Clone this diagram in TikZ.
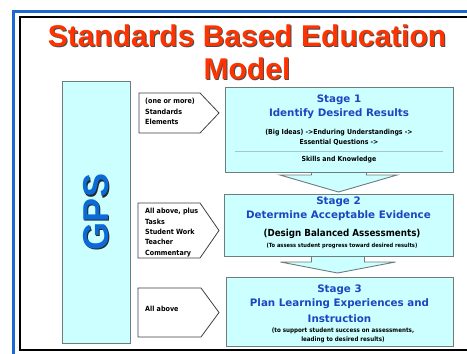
\documentclass[tikz,border=0pt]{standalone}
\usepackage{fontspec}
\setmainfont{DejaVu Sans}
\newfontfamily\arialfont{Liberation Sans}
\newfontfamily\condfont{DejaVu Sans Condensed}
\usetikzlibrary{calc}
\definecolor{framblue}{HTML}{1A6AD0}
\definecolor{cyanfill}{HTML}{CCFFFF}
\definecolor{boxgray}{HTML}{6E7C7C}
\definecolor{headblue}{HTML}{1C45C0}
\definecolor{titlered}{HTML}{FF3300}
\definecolor{gpsblue}{HTML}{0A6AD8}
\definecolor{seprule}{HTML}{A8C4CC}
\tikzset{
  stagebox/.style={draw=boxgray, fill=cyanfill, line width=0.9pt, inner sep=0pt},
  blockarrow/.style={draw=boxgray, fill=cyanfill, line width=0.9pt, line join=miter},
  tagshape/.style={draw=black!75, fill=white, line width=0.8pt},
  titletext/.style={font=\arialfont\bfseries\fontsize{30}{30}\selectfont, text=titlered, inner sep=0pt},
  titleshadow/.style={font=\arialfont\bfseries\fontsize{30}{30}\selectfont, text=black!70, inner sep=0pt},
  headtext/.style={font=\bfseries\fontsize{10.3}{12}\selectfont, text=headblue, inner sep=0pt},
  smalltext/.style={font=\condfont\bfseries\fontsize{6.9}{8}\selectfont, text=black, inner sep=0pt},
  tinytext/.style={font=\condfont\bfseries\fontsize{5.7}{7}\selectfont, text=black, inner sep=0pt},
  tagtext/.style={font=\condfont\bfseries\fontsize{7.1}{10.3}\selectfont, text=black, inner sep=0pt, anchor=west, align=left},
}
\begin{document}
\begin{tikzpicture}[x=1pt,y=-1pt]
\useasboundingbox (0,0) rectangle (467,354);
\fill[white] (0,0) rectangle (467,354);
% frame
\draw[framblue, line width=3pt] (13,360) -- (13,11) -- (470,11);
\draw[black, line width=2pt] (470,17) -- (20,17) -- (20,350) -- (470,350);
% title
\node[titleshadow] (t1s) at (248,37) {Standards Based Education};
\node[titletext] (t1) at (247,36) {Standards Based Education};
\node[titleshadow] (t2s) at (248,70) {Model};
\node[titletext] (t2) at (247,69) {Model};
% GPS column
\node[draw=boxgray, fill=cyanfill, line width=0.8pt, minimum width=68pt, minimum height=262pt] (gps) at (96,212) {};
\node[rotate=90, font=\arialfont\bfseries\fontsize{36}{36}\selectfont, text=black!85] (gpss) at (97.5,213.5) {GPS};
\node[rotate=90, font=\arialfont\bfseries\fontsize{36}{36}\selectfont, text=gpsblue] (gpst) at (96,212) {GPS};
% stage boxes (positions)
\coordinate (s1c) at (339,129.5);
\coordinate (s2c) at (338.5,225);
\coordinate (s3c) at (339.5,311.5);
% block arrows (drawn under boxes)
\path (s1c) ++(0,42.5) coordinate (s1b);
\path (s2c) ++(0,-31) coordinate (s2t);
\path (s2c) ++(0,31) coordinate (s2b);
\path (s3c) ++(0,-34.5) coordinate (s3t);
\draw[blockarrow] ($(s1b)+(-27.5,-5)$) -- ($(s1b)+(-27.5,3)$) -- ($(s1b)+(-59,3)$) -- ($(s2t)+(0,-2)$) -- ($(s1b)+(58,3)$) -- ($(s1b)+(27.5,3)$) -- ($(s1b)+(27.5,-5)$);
\draw[blockarrow] ($(s2b)+(-27,-5)$) -- ($(s2b)+(-27,6)$) -- ($(s2b)+(-58,6)$) -- ($(s3t)+(-2,-4)$) -- ($(s2b)+(57,6)$) -- ($(s2b)+(26,6)$) -- ($(s2b)+(26,-5)$);
\node[stagebox, minimum width=228pt, minimum height=85pt] (s1) at (s1c) {};
\node[stagebox, minimum width=229pt, minimum height=62pt] (s2) at (s2c) {};
\node[stagebox, minimum width=227pt, minimum height=69pt] (s3) at (s3c) {};
% stage 1 text
\node[headtext] (s1a) at (339,99.5) {Stage 1};
\node[headtext] (s1h) at (339,113.5) {Identify Desired Results};
\node[smalltext] (s1x) at (339,133) {(Big Ideas) ->Enduring Understandings ->};
\node[smalltext] (s1y) at (339,142) {Essential Questions ->};
\draw[seprule, line width=1pt] (235,151) -- (443,151);
\node[smalltext] (s1z) at (339,159.5) {Skills and Knowledge};
% stage 2 text
\node[headtext] (s2a) at (338.5,202) {Stage 2};
\node[headtext] (s2h) at (338.5,216) {Determine Acceptable Evidence};
\node[font=\condfont\bfseries\fontsize{9.7}{11}\selectfont, inner sep=0pt] (s2d) at (342,234) {(Design Balanced Assessments)};
\node[tinytext] (s2e) at (342,245.5) {(To assess student progress toward desired results)};
% stage 3 text
\node[headtext] (s3a) at (339.5,290) {Stage 3};
\node[headtext] (s3h) at (339.5,304) {Plan Learning Experiences and};
\node[headtext] (s3i) at (339.5,318.5) {Instruction};
\node[tinytext, font=\condfont\bfseries\fontsize{6.2}{7}\selectfont] (s3x) at (343,331) {(to support student success on assessments,};
\node[tinytext, font=\condfont\bfseries\fontsize{6.2}{7}\selectfont] (s3y) at (343,339.5) {leading to desired results)};
% tags
\draw[tagshape] (139,93) -- (200,93) -- (219,113) -- (200,133) -- (139,133) -- cycle;
\node[tagtext] (g1) at (145,111.5) {(one or more)\\Standards\\Elements};
\draw[tagshape] (138,203) -- (200,203) -- (219,230.5) -- (200,258) -- (138,258) -- cycle;
\node[tagtext] (g2) at (145,232.5) {All above, plus\\Tasks\\Student Work\\Teacher\\Commentary};
\draw[tagshape] (138,288) -- (201,288) -- (219,312.5) -- (201,337) -- (138,337) -- cycle;
\node[tagtext] (g3) at (145,309) {All above};
\end{tikzpicture}
\end{document}
